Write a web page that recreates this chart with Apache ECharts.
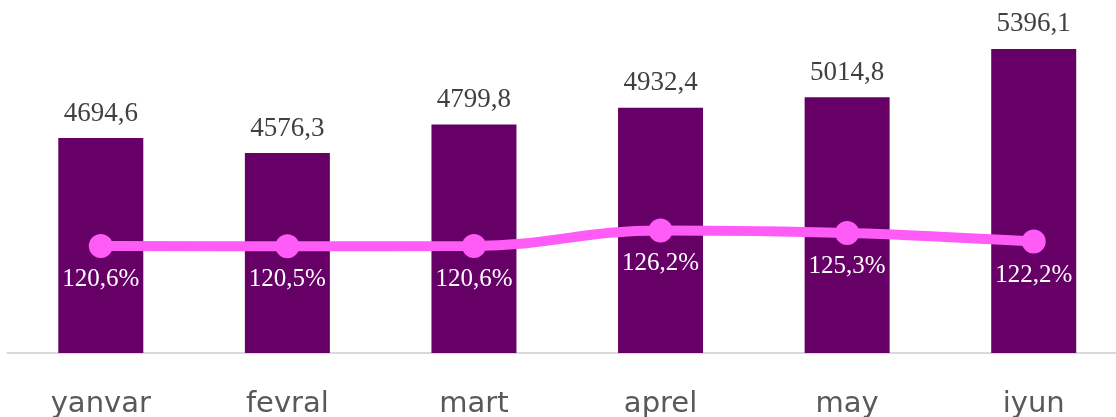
<!DOCTYPE html>
<html>
<head>
<meta charset="utf-8">
<script src="https://cdn.jsdelivr.net/npm/echarts@6/dist/echarts.min.js"></script>
<style>html,body{margin:0;padding:0;background:#fff;}#c{width:1116px;height:417px;}</style>
</head>
<body>
<div id="c"></div>
<script>
const categories = ['yanvar', 'fevral', 'mart', 'aprel', 'may', 'iyun'];
const volumeValues = [4694.6, 4576.3, 4799.8, 4932.4, 5014.8, 5396.1];
const percentValues = [120.6, 120.5, 120.6, 126.2, 125.3, 122.2];

const fmt = v => String(v.toFixed(1)).replace('.', ',');
const chart = echarts.init(document.getElementById('c'));
chart.setOption({
  animation: false,
  grid: { left: 7.5, width: 1119.5, top: 23, bottom: 64, outerBoundsMode: 'none', containLabel: false },
  xAxis: {
    type: 'category',
    data: categories,
    axisLine: { lineStyle: { color: '#d9d9d9', width: 2 } },
    axisTick: { show: false },
    axisLabel: { color: '#595959', fontFamily: 'DejaVu Sans', fontSize: 29, margin: 37 }
  },
  yAxis: [
    { type: 'value', min: 3000, max: 5600, show: false, splitLine: { show: false } },
    { type: 'value', min: 82, max: 201, show: false, splitLine: { show: false } }
  ],
  series: [
    {
      type: 'bar',
      data: volumeValues,
      barWidth: 85,
      itemStyle: { color: '#660066' },
      label: {
        show: true, position: 'top', distance: 11,
        color: '#404040', fontFamily: 'Liberation Serif', fontSize: 27,
        formatter: p => fmt(p.value)
      }
    },
    {
      type: 'line',
      yAxisIndex: 1,
      data: percentValues,
      smooth: 0.4,
      symbol: 'circle',
      symbolSize: 24,
      lineStyle: { color: '#ff5cf7', width: 10 },
      itemStyle: { color: '#ff5cf7' },
      label: {
        show: true, position: 'bottom', distance: 9,
        color: '#ffffff', fontFamily: 'Liberation Serif', fontSize: 25,
        formatter: p => fmt(p.value) + '%'
      }
    }
  ]
});
</script>
</body>
</html>
